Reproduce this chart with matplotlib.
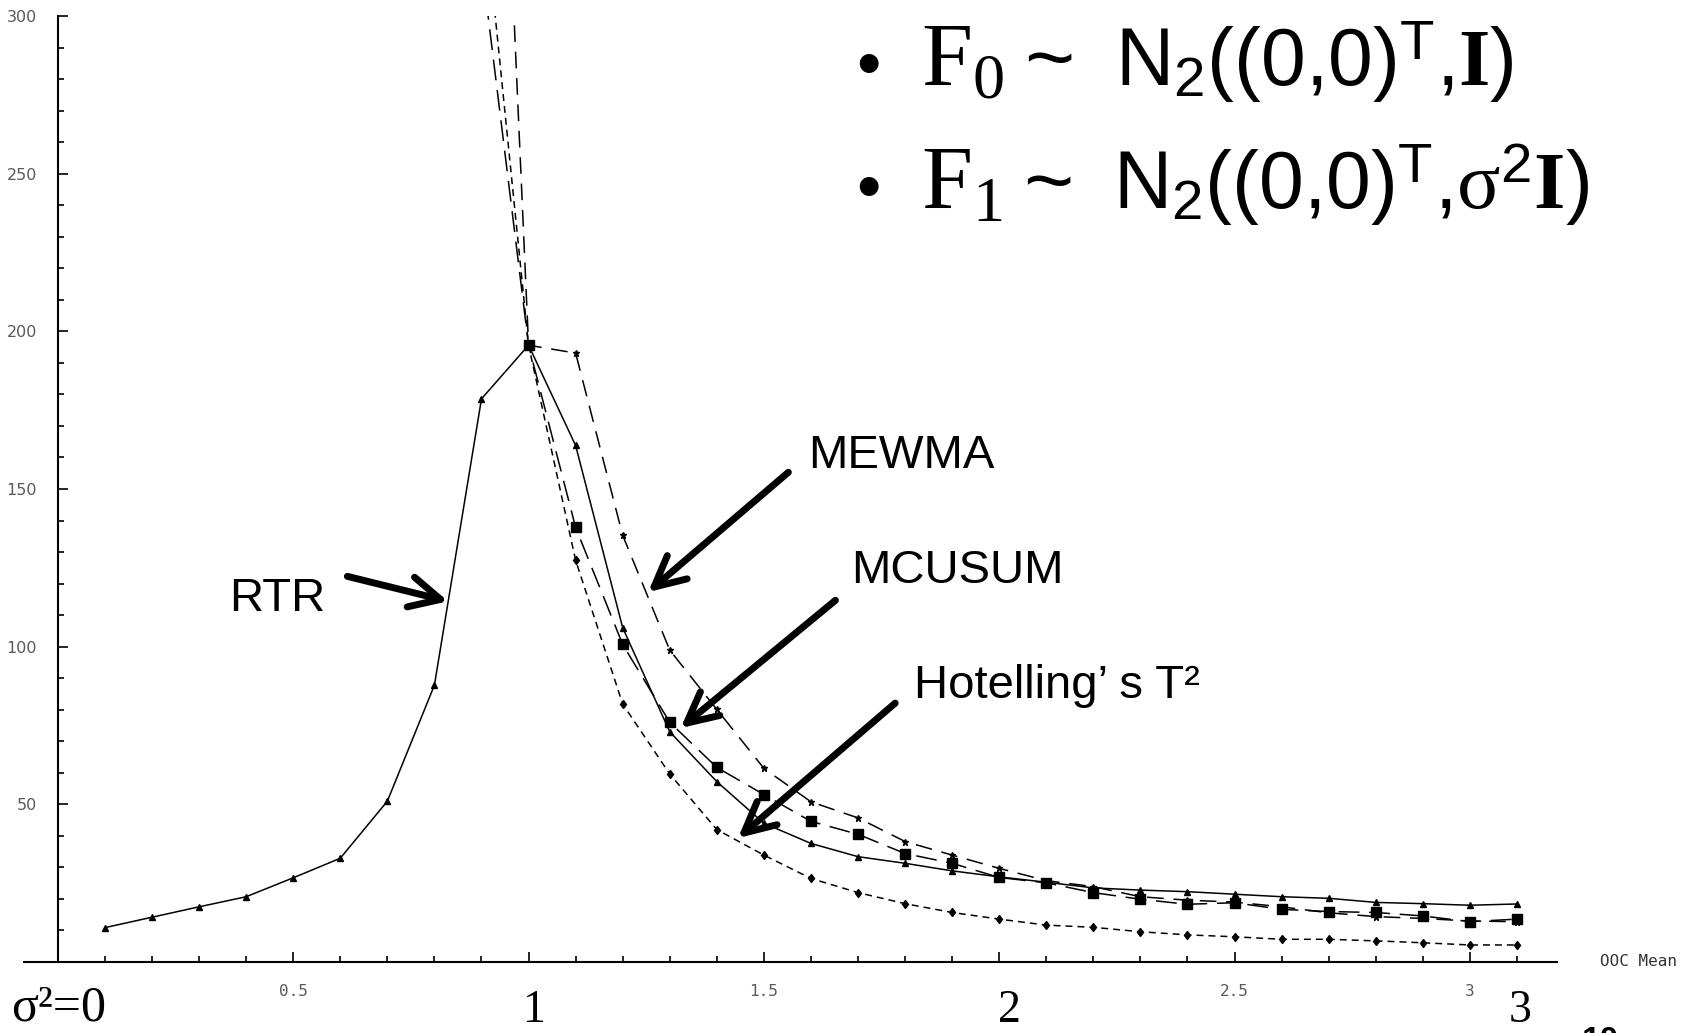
import numpy as np
import matplotlib
matplotlib.use("Agg")
import matplotlib.pyplot as plt
from matplotlib.ticker import FixedLocator, MultipleLocator

plt.rcParams['mathtext.fontset'] = 'custom'
plt.rcParams['mathtext.rm'] = 'Liberation Serif'
plt.rcParams['mathtext.sf'] = 'Liberation Sans'
plt.rcParams['mathtext.bf'] = 'Liberation Serif:bold'
plt.rcParams['mathtext.it'] = 'Liberation Serif:italic'
plt.rcParams['lines.scale_dashes'] = False

# --- data: ARL vs sigma^2 (OOC Mean axis) ---
x_rtr = [0.1, 0.2, 0.3, 0.4, 0.5, 0.6, 0.7, 0.8, 0.9, 1.0, 1.1, 1.2, 1.3, 1.4, 1.5, 1.6,
         1.7, 1.8, 1.9, 2.0, 2.1, 2.2, 2.3, 2.4, 2.5, 2.6, 2.7, 2.8, 2.9, 3.0, 3.1]
arl_rtr = [10.9, 14.2, 17.5, 20.7, 26.7, 32.9, 51.0, 87.8, 178.6, 195.6, 163.8, 106.0,
           73.0, 57.2, 44.0, 37.6, 33.4, 31.3, 28.9, 27.0, 25.3, 23.5, 22.8, 22.3, 21.5,
           20.7, 20.2, 18.9, 18.5, 18.0, 18.4]

x_other = [0.9, 1.0, 1.1, 1.2, 1.3, 1.4, 1.5, 1.6, 1.7, 1.8, 1.9, 2.0, 2.1, 2.2, 2.3,
           2.4, 2.5, 2.6, 2.7, 2.8, 2.9, 3.0, 3.1]
arl_mewma = [532, 195.6, 193.1, 135.3, 98.9, 80.1, 61.4, 50.8, 45.7, 38.2, 33.9, 29.7,
             25.8, 23.9, 20.7, 19.6, 19.0, 17.5, 15.6, 14.4, 13.8, 13.0, 12.8]
arl_mcusum = [317, 195.6, 137.8, 100.7, 76.0, 61.7, 53.1, 44.6, 40.5, 34.4, 31.3, 26.8,
              25.1, 22.0, 19.9, 18.3, 18.8, 16.7, 16.0, 15.7, 14.6, 12.8, 13.6]
arl_hotelling = [343, 195.6, 127.4, 81.8, 59.6, 42.0, 33.9, 26.5, 22.0, 18.5, 15.7, 13.6,
                 11.7, 11.0, 9.6, 8.6, 8.0, 7.2, 7.2, 6.7, 6.1, 5.4, 5.4]

y_ticks = [50, 100, 150, 200, 250, 300]
x_ticks = [0.5, 1.0, 1.5, 2.0, 2.5, 3.0]
x_ticklabels = ['0.5', '', '1.5', '', '2.5', '3']

W, H = 1689, 1033
fig = plt.figure(figsize=(W / 100, H / 100), dpi=100)
ax = fig.add_axes([24 / W, 1 - 962 / H, (1556.5 - 24) / W, (962 - 16) / H])

lw = 1.1
ax.plot(x_rtr, arl_rtr, color='black', lw=lw, marker='^', ms=4.5)
ax.plot(x_other, arl_mewma, color='black', lw=lw, dashes=(12, 7), marker='*', ms=5)
ax.plot(x_other, arl_mcusum, color='black', lw=lw, dashes=(15, 7), marker='s', ms=7.5)
ax.plot(x_other, arl_hotelling, color='black', lw=lw, dashes=(5, 3.6), marker='d', ms=4.5)

ax.set_xlim(-0.072, 3.184)
ax.set_ylim(0, 300)
for s in ['top', 'right']:
    ax.spines[s].set_visible(False)
ax.spines['left'].set_position(('data', 0))
ax.spines['left'].set_linewidth(1.5)
ax.spines['bottom'].set_linewidth(1.5)

ax.yaxis.set_major_locator(FixedLocator(y_ticks))
ax.yaxis.set_minor_locator(MultipleLocator(10))
ax.xaxis.set_major_locator(FixedLocator(x_ticks))
ax.set_xticklabels(x_ticklabels)
ax.xaxis.set_minor_locator(MultipleLocator(0.1))
ax.tick_params(axis='both', which='both', direction='in', color='black', width=1.2)
ax.tick_params(axis='both', which='major', length=7)
ax.tick_params(axis='both', which='minor', length=4.5)
ax.tick_params(axis='y', which='major', pad=15, labelsize=11.5, labelcolor='#5a5a5a')
ax.tick_params(axis='x', which='major', pad=16, labelsize=11.5, labelcolor='#5a5a5a')
for lab in ax.get_xticklabels():
    lab.set_family('DejaVu Sans Mono')

fig.text(1638 / W, 1 - 961 / H, 'OOC Mean', family='DejaVu Sans Mono',
         fontsize=11.5, color='#333333', ha='center', va='center')

# method labels and arrows
lab_kw = dict(family='Liberation Sans', fontsize=34, color='black', va='baseline', ha='left')
ax.text(1.594, 156.7, 'MEWMA', **lab_kw)
ax.text(1.686, 120.2, 'MCUSUM', **lab_kw)
ax.text(1.818, 83.7, 'Hotelling\u2019 s T\u00b2', **lab_kw)
ax.text(0.363, 111.3, 'RTR', **lab_kw)

arrow_kw = dict(arrowstyle='->,head_length=1.1,head_width=0.55', lw=5, color='black',
                shrinkA=0, shrinkB=0, mutation_scale=20)
arrows = [((1.552, 155.3), (1.254, 117.3)),
          ((1.652, 114.7), (1.323, 74.2)),
          ((1.779, 82.1), (1.445, 39.3)),
          ((0.615, 122.3), (0.829, 114.4))]
for start, tip in arrows:
    ax.annotate('', xy=tip, xytext=start, arrowprops=arrow_kw)

# model statements, built piece by piece (serif F, sans N, bold I)
renderer = fig.canvas.get_renderer()


def formula_line(y_px, parts):
    fig.text(856 / W, 1 - y_px / H, '\u2022', family='Liberation Sans', fontsize=50,
             va='baseline', ha='left')
    x = 921
    for s, size, fam, gap in parts:
        x += gap
        t = fig.text(x / W, 1 - y_px / H, s, fontsize=size, family=fam,
                     va='baseline', ha='left')
        x = t.get_window_extent(renderer).x1


formula_line(86, [(r'$\mathrm{F}_{\mathrm{0}}$', 66, 'Liberation Serif', 0),
                  ('~', 62, 'Liberation Sans', 20),
                  (r'$\mathsf{N}_{\mathsf{2}}\mathsf{((0{,}0)}^{\mathsf{T}}\mathsf{{,}}\mathbf{I}\mathsf{)}$',
                   58, 'Liberation Sans', 40)])
formula_line(209, [(r'$\mathrm{F}_{\mathrm{1}}$', 66, 'Liberation Serif', 0),
                   ('~', 62, 'Liberation Sans', 20),
                   (r'$\mathsf{N}_{\mathsf{2}}\mathsf{((0{,}0)}^{\mathsf{T}}\mathsf{{,}}\mathrm{\sigma}^{\mathsf{2}}\mathbf{I}\mathsf{)}$',
                    58, 'Liberation Sans', 40)])

# big axis annotations
big_kw = dict(family='Liberation Serif', va='bottom')
fig.text(11 / W, 0.001, '\u03c3\u00b2=0', ha='left', fontsize=36, **big_kw)
fig.text(534 / W, 0.001, '1', ha='center', fontsize=33, **big_kw)
fig.text(1009 / W, 0.001, '2', ha='center', fontsize=33, **big_kw)
fig.text(1520 / W, 0.001, '3', ha='center', fontsize=33, **big_kw)
fig.text(1600 / W, 1 - 1050 / H, '10', family='Liberation Sans', fontsize=24,
         fontweight='bold', ha='center', va='baseline')

fig.savefig('out.png', dpi=100, facecolor='white')
